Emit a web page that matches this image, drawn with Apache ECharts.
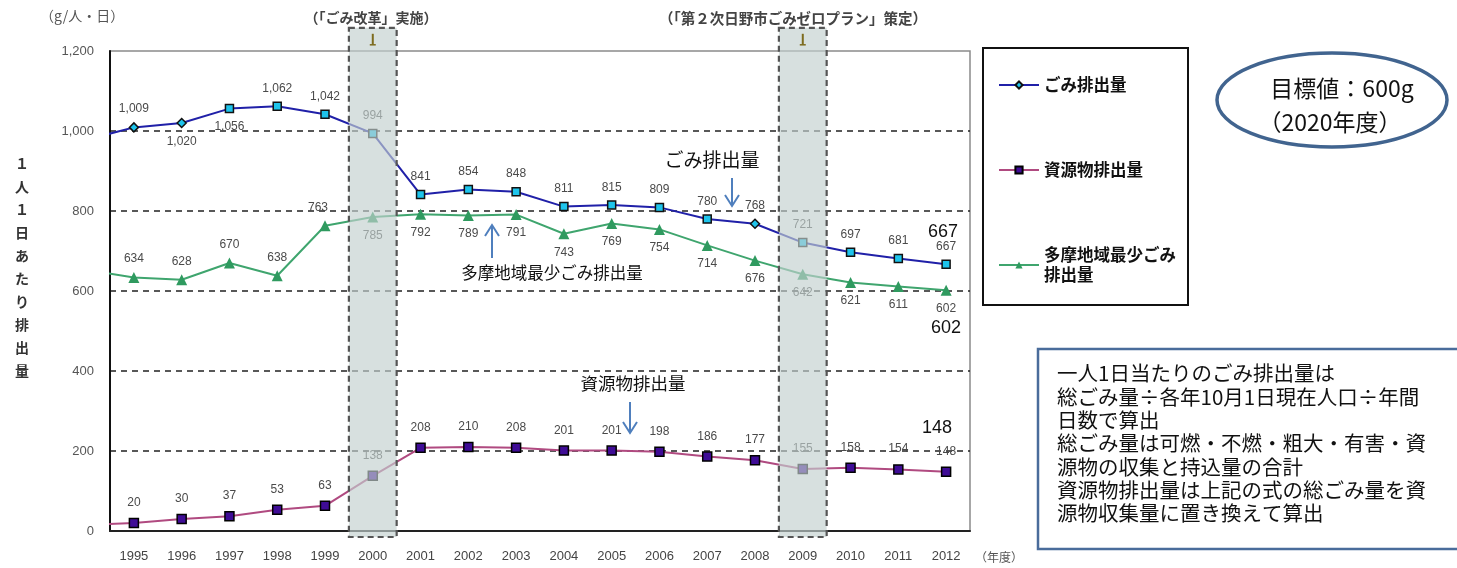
<!DOCTYPE html>
<html><head><meta charset="utf-8">
<script src="https://cdn.jsdelivr.net/npm/echarts@6/dist/echarts.min.js"></script>
<style>html,body{margin:0;padding:0;background:#fff}#c{width:1457px;height:568px}</style>
</head><body><div id="c"></div>
<script>
// ---- data ----
const years = ['1995','1996','1997','1998','1999','2000','2001','2002','2003','2004','2005','2006','2007','2008','2009','2010','2011','2012'];
const waste    = [1009,1020,1056,1062,1042,994,841,854,848,811,815,809,780,768,721,697,681,667];
const resource = [20,30,37,53,63,138,208,210,208,201,201,198,186,177,155,158,154,148];
const tamaMin  = [634,628,670,638,763,785,792,789,791,743,769,754,714,676,642,621,611,602];
// the lines run in from the previous year (1994), left of the axis
const leadYear = 1994;
const leadWaste = 978, leadResource = 15, leadTamaMin = 653;
const bandYears = [2000, 2009];

// label placement (styles, kept apart from data)
const wastePos = ['top','bottom','bottom','top','top','top','top','top','top','top','top','top','top','top','top','top','top','top'];
const tamaPos  = ['top','top','top','top','top','bottom','bottom','bottom','bottom','bottom','bottom','bottom','bottom','bottom','bottom','bottom','bottom','bottom'];
const wasteDiamondIdx = [0,1,13];

const NUM = '"Liberation Sans", Arial, sans-serif';
const JP = '"Noto Sans CJK JP", sans-serif';
const fmt = v => v.toLocaleString('en-US');

function buildData(lead, vals, posArr, extra) {
  const out = [{ value: [leadYear, lead], symbol: 'none', label: { show: false } }];
  vals.forEach((v, i) => {
    const item = { value: [Number(years[i]), v], label: { position: posArr ? posArr[i] : 'top' } };
    if (extra) Object.assign(item, extra(i));
    out.push(item);
  });
  return out;
}

const labelStyle = { show: true, fontFamily: NUM, fontSize: 12, color: '#4a4a4a', distance: 7,
  formatter: p => fmt(p.value[1]) };

const chart = echarts.init(document.getElementById('c'));

function arrow(x, yFrom, yTo) {
  const dir = yTo > yFrom ? 1 : -1;
  return { type: 'group', children: [
    { type: 'line', shape: { x1: x, y1: yFrom, x2: x, y2: yTo }, style: { stroke: '#4f7fbd', lineWidth: 2 } },
    { type: 'polyline', shape: { points: [[x - 7, yTo - dir * 11], [x, yTo], [x + 7, yTo - dir * 11]] }, style: { stroke: '#4f7fbd', lineWidth: 2, fill: 'none' } }
  ]};
}

const option = {
  backgroundColor: '#fff',
  animation: false,
  grid: { left: 110, right: 487, top: 51, bottom: 37, show: true, borderColor: '#8a8a8a', borderWidth: 1.5 },
  xAxis: [
    { type: 'value', min: 1994.5, max: 2012.5, show: false },
    { type: 'category', data: years, boundaryGap: true, position: 'bottom',
      axisLine: { lineStyle: { color: '#222', width: 2 } }, axisTick: { show: false },
      axisLabel: { fontFamily: NUM, fontSize: 13, color: '#444', margin: 19 } }
  ],
  yAxis: { type: 'value', min: 0, max: 1200, interval: 200,
    axisLine: { show: true, lineStyle: { color: '#111', width: 2 } }, axisTick: { show: false },
    axisLabel: { fontFamily: NUM, fontSize: 13, color: '#555', margin: 16, formatter: v => fmt(v) },
    splitLine: { show: true, showMaxLine: false, lineStyle: { color: '#222', type: [6, 5], width: 1.5 } } },
  legend: { left: 993, top: 70, orient: 'vertical', itemGap: 65, itemWidth: 40, itemHeight: 9,
    textStyle: { fontFamily: JP, fontSize: 16.5, fontWeight: 'bold', color: '#111', lineHeight: 20 },
    formatter: n => n === '多摩地域最少ごみ排出量' ? '多摩地域最少ごみ\n排出量' : n,
    data: ['ごみ排出量', '資源物排出量', '多摩地域最少ごみ排出量'] },
  series: [
    { name: 'ごみ排出量', type: 'line', xAxisIndex: 0, z: 3,
      symbol: 'diamond', symbolSize: 9,
      lineStyle: { color: '#2020a8', width: 2 },
      itemStyle: { color: '#1ec4ec', borderColor: '#111', borderWidth: 1.5 },
      label: labelStyle,
      data: buildData(leadWaste, waste, wastePos, i => wasteDiamondIdx.includes(i) ? {} : { symbol: 'rect', symbolSize: 8 }) },
    { name: '資源物排出量', type: 'line', xAxisIndex: 0, z: 3,
      symbol: 'rect', symbolSize: 9,
      lineStyle: { color: '#b04a80', width: 2 },
      itemStyle: { color: '#3f0c96', borderColor: '#000', borderWidth: 1.5 },
      label: Object.assign({}, labelStyle, { distance: 9 }),
      data: buildData(leadResource, resource, null) },
    { name: '多摩地域最少ごみ排出量', type: 'line', xAxisIndex: 0, z: 3,
      symbol: 'triangle', symbolSize: 11,
      lineStyle: { color: '#3fa56e', width: 2 },
      itemStyle: { color: '#2f9a5f' },
      label: labelStyle,
      data: buildData(leadTamaMin, tamaMin, tamaPos, i => i === 4 ? { label: { position: 'top', offset: [-7, 0] } } : {}) },
    { type: 'custom', xAxisIndex: 0, yAxisIndex: 0, clip: false, z: 10, silent: true,
      data: bandYears.map(y => [y, 0]),
      renderItem(params, api) {
        const yr = api.value(0);
        const pL = api.coord([yr - 0.5, 1258]);
        const pR = api.coord([yr + 0.5, -15]);
        const cx = (pL[0] + pR[0]) / 2;
        return { type: 'group', children: [
          { type: 'rect', shape: { x: pL[0], y: pL[1], width: pR[0] - pL[0], height: pR[1] - pL[1] },
            style: { fill: 'rgba(195,208,206,0.66)', stroke: '#555', lineWidth: 2.2, lineDash: [6, 4] } },
          { type: 'line', shape: { x1: cx, y1: pL[1] + 6, x2: cx, y2: pL[1] + 17 }, style: { stroke: '#7d6b1e', lineWidth: 2 } },
          { type: 'line', shape: { x1: cx - 3, y1: pL[1] + 17, x2: cx + 3, y2: pL[1] + 17 }, style: { stroke: '#7d6b1e', lineWidth: 1.5 } }
        ]};
      } }
  ],
  graphic: [
    { type: 'text', left: 40, top: 9, style: { text: '（g/人・日）', font: '14px ' + JP, fill: '#555' } },
    { type: 'text', x: 371, y: 18, style: { text: '（「ごみ改革」実施）', font: 'bold 14px ' + JP, fill: '#444', align: 'center', verticalAlign: 'middle' } },
    { type: 'text', x: 793, y: 18, style: { text: '（「第２次日野市ごみゼロプラン」策定）', font: 'bold 14.5px ' + JP, fill: '#444', align: 'center', verticalAlign: 'middle' } },
    { type: 'text', x: 22, y: 152, style: { text: '１\n人\n１\n日\nあ\nた\nり\n排\n出\n量', font: 'bold 14px ' + JP, fill: '#333', align: 'center', lineHeight: 23 } },
    { type: 'text', x: 975, y: 557, style: { text: '（年度）', font: '12px ' + JP, fill: '#555', verticalAlign: 'middle' } },
    // in-chart annotations
    { type: 'text', x: 712, y: 160, style: { text: 'ごみ排出量', font: '19px ' + JP, fill: '#111', align: 'center', verticalAlign: 'middle' } },
    arrow(732, 178, 206),
    { type: 'text', x: 552, y: 273, style: { text: '多摩地域最少ごみ排出量', font: '16.5px ' + JP, fill: '#111', align: 'center', verticalAlign: 'middle' } },
    arrow(492, 258, 225),
    { type: 'text', x: 633, y: 383, style: { text: '資源物排出量', font: '17.5px ' + JP, fill: '#111', align: 'center', verticalAlign: 'middle' } },
    arrow(630, 402, 433),
    { type: 'text', x: 943, y: 232, style: { text: '667', font: '18px ' + NUM, fill: '#111', align: 'center', verticalAlign: 'middle' } },
    { type: 'text', x: 946, y: 328, style: { text: '602', font: '18px ' + NUM, fill: '#111', align: 'center', verticalAlign: 'middle' } },
    { type: 'text', x: 937, y: 428, style: { text: '148', font: '18px ' + NUM, fill: '#111', align: 'center', verticalAlign: 'middle' } },
    // legend frame
    { type: 'rect', shape: { x: 983, y: 48, width: 205, height: 257 }, style: { fill: 'none', stroke: '#111', lineWidth: 2 }, z: -1 },
    // target ellipse
    { type: 'ellipse', shape: { cx: 1332, cy: 100, rx: 115, ry: 47 }, style: { fill: '#fff', stroke: '#41648f', lineWidth: 3.5 } },
    { type: 'text', x: 1342, y: 88, style: { text: '目標値：600g', font: '23px ' + JP, fill: '#111', align: 'center', verticalAlign: 'middle' }, z: 10 },
    { type: 'text', x: 1330, y: 122, style: { text: '（2020年度）', font: '23px ' + JP, fill: '#111', align: 'center', verticalAlign: 'middle' }, z: 10 },
    // note box
    { type: 'rect', shape: { x: 1038, y: 349, width: 440, height: 200 }, style: { fill: '#fff', stroke: '#4a6c9b', lineWidth: 2.5 } },
    { type: 'text', x: 1057, y: 362, style: { text: '一人1日当たりのごみ排出量は\n総ごみ量÷各年10月1日現在人口÷年間\n日数で算出\n総ごみ量は可燃・不燃・粗大・有害・資\n源物の収集と持込量の合計\n資源物排出量は上記の式の総ごみ量を資\n源物収集量に置き換えて算出',
      font: '20.5px ' + JP, fill: '#111', lineHeight: 23.3 }, z: 10 }
  ]
};
chart.setOption(option);
</script>
</body></html>
